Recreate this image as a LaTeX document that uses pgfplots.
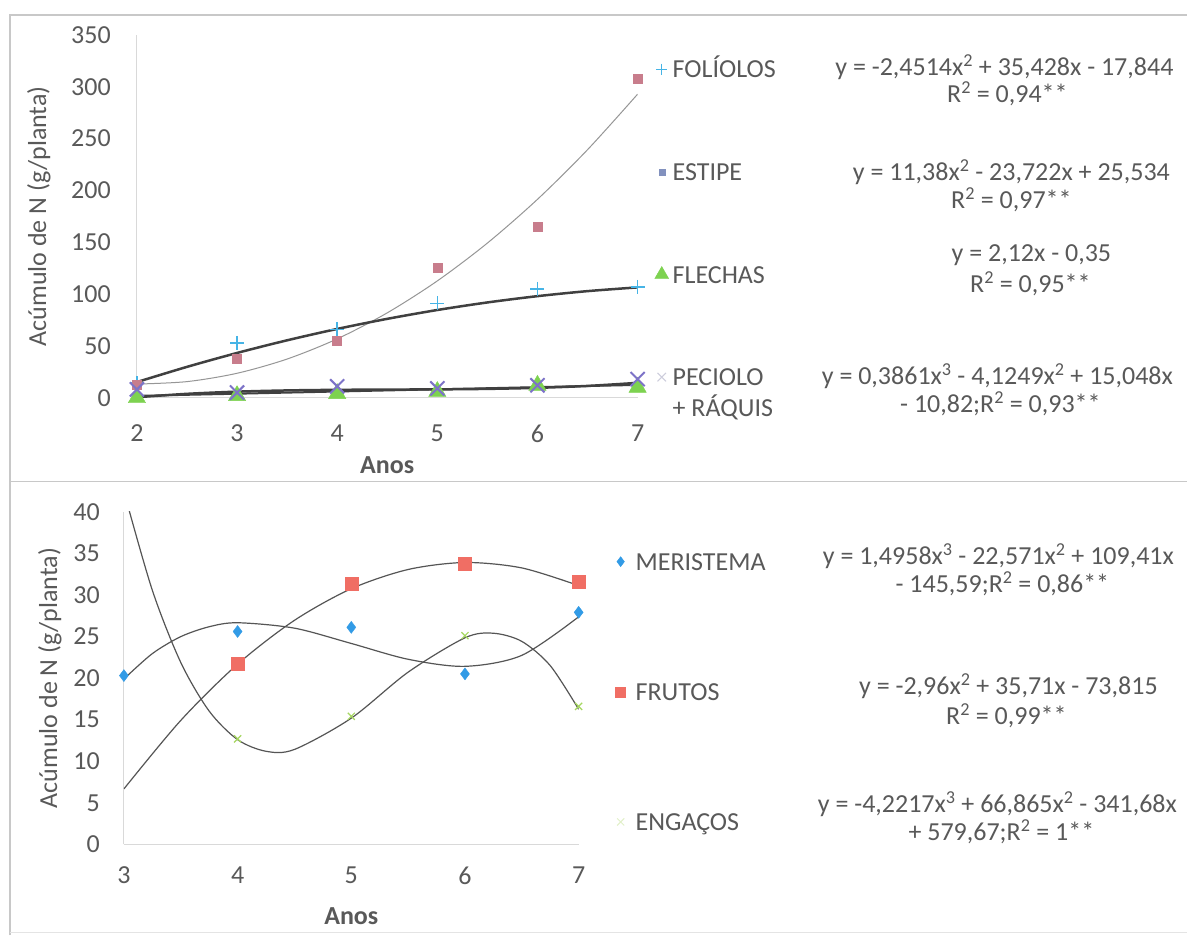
\documentclass[border=0pt]{standalone}
\usepackage{fontspec}
\setmainfont{Carlito}
\usepackage{pgfplots}
\pgfplotsset{compat=1.18}

\definecolor{txtgray}{RGB}{89,89,89}
\definecolor{axisgray}{RGB}{217,217,217}
\definecolor{framegray}{RGB}{200,200,200}
\definecolor{cFol}{RGB}{70,180,230}
\definecolor{cEst}{RGB}{200,125,140}
\definecolor{cEstLeg}{RGB}{130,145,190}
\definecolor{cFle}{RGB}{125,210,80}
\definecolor{cPec}{RGB}{125,115,200}
\definecolor{cPecLeg}{RGB}{205,205,220}
\definecolor{cMer}{RGB}{50,155,230}
\definecolor{cFru}{RGB}{240,110,100}
\definecolor{cEng}{RGB}{165,215,95}
\definecolor{cEngLeg}{RGB}{225,240,200}
\definecolor{trdark}{RGB}{64,64,64}
\definecolor{trlight}{RGB}{150,150,150}
\definecolor{trmid}{RGB}{85,85,85}

\newcommand{\fs}{\fontsize{26}{31}\selectfont}
\newcommand{\eqfs}{\fontsize{26}{31}\selectfont}

\pgfplotsset{
  panel/.style={
    scale only axis,
    axis x line*=bottom, axis y line*=left,
    axis line style={-, draw=axisgray, line width=1pt},
    major tick length=0pt,
    tick style={draw=none},
    tick label style={font=\fs, text=txtgray, inner sep=0pt},
    /pgf/number format/assume math mode=true,
    legend cell align=left,
    legend style={draw=none, fill=none, inner sep=0pt, font=\fs, text=txtgray,
      cells={anchor=base west}},
    legend image code/.code={\draw[##1] plot coordinates {(0pt,8.5pt)};},
  },
}

\begin{document}
\begin{tikzpicture}
\fill[white] (0pt,0pt) rectangle (1188pt,936pt);
% panel frames
\draw[framegray, line width=1.5pt] (10pt,0pt) -- (10pt,921pt) -- (1188pt,921pt);
\draw[framegray, line width=1.5pt] (10pt,454pt) -- (1188pt,454pt);
\draw[axisgray!70, line width=1pt] (10pt,3pt) -- (1188pt,3pt);

% ---------------- upper panel: leaves and stem ----------------
\begin{axis}[panel,
  at={(137pt,538pt)}, anchor=south west, width=501pt, height=363pt,
  xmin=2, xmax=7, ymin=0, ymax=350,
  xtick={2,3,4,5,6,7}, ytick={0,50,...,350},
  every x tick label/.append style={yshift=-27pt},
  every y tick label/.append style={xshift=-26pt},
  xlabel={Anos},
  ylabel={Acúmulo de N (g/planta)},
  every axis x label/.style={at={(axis description cs:0.5,-0.185)}, anchor=center,
    font=\fs\bfseries, text=txtgray},
  every axis y label/.style={at={(axis description cs:-0.196,0.5)}, rotate=90, anchor=center,
    font=\fs, text=txtgray},
  legend style={at={(1.034,0.948)}, anchor=north west, row sep=75.5pt, column sep=2pt},
]
% measured values
\addplot[only marks, mark=+, mark size=7pt, draw=cFol, line width=1.5pt, forget plot]
  coordinates {(2,14) (3,53) (4,66) (5,91) (6,105) (7,107)};
\addplot[only marks, mark=square*, mark size=4.5pt, draw=cEst, fill=cEst, forget plot]
  coordinates {(2,13) (3,38) (4,55) (5,125) (6,165) (7,308)};
\addplot[only marks, mark=triangle*, mark size=10pt, draw=cFle, fill=cFle, forget plot]
  coordinates {(2,0) (3,2) (4,4) (5,6) (6,12) (7,10)};
\addplot[only marks, mark=x, mark size=10pt, draw=cPec, line width=2pt, forget plot]
  coordinates {(2,8) (3,5) (4,11) (5,9) (6,12) (7,18)};
% trend lines
\addplot[smooth, draw=trlight, line width=1pt, forget plot] coordinates {
  (2,13.19) (2.5,15.56) (3,23.61) (3.5,37.35) (4,56.79) (4.5,81.91)
  (5,112.73) (5.5,149.23) (6,191.42) (6.5,239.31) (7,292.88)};
\addplot[smooth, draw=trdark, line width=2.5pt, forget plot] coordinates {
  (2,15.13) (2.5,29.78) (3,43.21) (3.5,55.41) (4,66.38) (4.5,76.12)
  (5,84.65) (5.5,91.94) (6,98.01) (6.5,102.86) (7,106.47)};
\addplot[draw=trdark, line width=2pt, forget plot] coordinates {(2,1.77) (7,12.37)};
\addplot[smooth, draw=trdark, line width=2.5pt, forget plot] coordinates {
  (2,0.49) (2.5,3.77) (3,5.87) (3.5,7.05) (4,7.62) (4.5,7.87)
  (5,8.08) (5.5,8.55) (6,9.56) (6.5,11.40) (7,14.37)};
% legend
\addlegendimage{only marks, mark=+, mark size=5.5pt, draw=cFol, line width=1pt}
\addlegendentry{\strut FOLÍOLOS}
\addlegendimage{only marks, mark=square*, mark size=3pt, draw=cEstLeg, fill=cEstLeg}
\addlegendentry{\strut ESTIPE}
\addlegendimage{only marks, mark=triangle*, mark size=8pt, draw=cFle, fill=cFle}
\addlegendentry{\strut FLECHAS}
\addlegendimage{only marks, mark=x, mark size=6pt, draw=cPecLeg, line width=1pt}
\addlegendentry{\begin{tabular}[t]{@{}l@{}}\strut PECIOLO\\+ RÁQUIS\end{tabular}}
\end{axis}

% ---------------- lower panel: reproductive organs ----------------
\begin{axis}[panel,
  at={(124pt,91pt)}, anchor=south west, width=455pt, height=333pt,
  xmin=3, xmax=7, ymin=0, ymax=40,
  xtick={3,4,5,6,7}, ytick={0,5,...,40},
  every x tick label/.append style={yshift=-22pt},
  every y tick label/.append style={xshift=-24pt},
  xlabel={Anos},
  ylabel={Acúmulo de N (g/planta)},
  every axis x label/.style={at={(axis description cs:0.5,-0.216)}, anchor=center,
    font=\fs\bfseries, text=txtgray},
  every axis y label/.style={at={(axis description cs:-0.163,0.5)}, rotate=90, anchor=center,
    font=\fs, text=txtgray},
  legend style={at={(1.081,0.896)}, anchor=north west, row sep=103pt, column sep=8pt},
]
% measured values
\addplot[only marks, mark=diamond*, mark size=6pt, draw=cMer, fill=cMer, forget plot]
  coordinates {(3,20.3) (4,25.6) (5,26.1) (6,20.5) (7,27.9)};
\addplot[only marks, mark=square*, mark size=6.5pt, draw=cFru, fill=cFru, forget plot]
  coordinates {(4,21.7) (5,31.3) (6,33.8) (7,31.6)};
\addplot[only marks, mark=x, mark size=5pt, draw=cEng, line width=1.2pt, forget plot]
  coordinates {(4,12.7) (5,15.4) (6,25.1) (7,16.6)};
% trend lines
\addplot[smooth, draw=trmid, line width=1.2pt, forget plot] coordinates {
  (3,19.89) (3.25,22.94) (3.5,24.98) (3.75,26.17) (4,26.65) (4.5,26.00)
  (5,24.16) (5.5,22.26) (6,21.41) (6.5,22.73) (7,27.36)};
\addplot[smooth, draw=trmid, line width=1.2pt, forget plot] coordinates {
  (3,6.68) (3.5,14.91) (4,21.67) (4.5,26.94) (5,30.74) (5.5,33.05)
  (6,33.89) (6.5,33.24) (7,31.12)};
\addplot[smooth, draw=trmid, line width=1.2pt, forget plot] coordinates {
  (3,42.43) (3.25,30.55) (3.5,21.88) (3.75,16.03) (4,12.60) (4.25,11.20)
  (4.5,11.42) (5,15.18) (5.5,20.71) (6,24.84) (6.25,25.39) (6.5,24.41)
  (6.75,21.50) (7,16.25)};
% legend
\addlegendimage{only marks, mark=diamond*, mark size=5pt, draw=cMer, fill=cMer}
\addlegendentry{\strut MERISTEMA}
\addlegendimage{only marks, mark=square*, mark size=5pt, draw=cFru, fill=cFru}
\addlegendentry{\strut FRUTOS}
\addlegendimage{only marks, mark=x, mark size=5pt, draw=cEngLeg, line width=1pt}
\addlegendentry{\strut ENGAÇOS}
\end{axis}

% fitted equations
\begin{scope}[every node/.style={font=\eqfs, text=txtgray, anchor=center, inner sep=0pt}]
\node at (1005pt,869pt) {y = -2,4514x\textsuperscript{2} + 35,428x - 17,844};
\node at (1008pt,842pt) {R\textsuperscript{2} = 0,94**};
\node at (1012pt,764pt) {y = 11,38x\textsuperscript{2} - 23,722x + 25,534};
\node at (1012pt,736pt) {R\textsuperscript{2} = 0,97**};
\node at (1032pt,681pt) {y = 2,12x - 0,35};
\node at (1031pt,652pt) {R\textsuperscript{2} = 0,95**};
\node at (998pt,560pt) {y = 0,3861x\textsuperscript{3} - 4,1249x\textsuperscript{2} + 15,048x};
\node at (1001pt,532pt) {- 10,82;R\textsuperscript{2} = 0,93**};
\node at (999pt,379pt) {y = 1,4958x\textsuperscript{3} - 22,571x\textsuperscript{2} + 109,41x};
\node at (1003pt,352pt) {- 145,59;R\textsuperscript{2} = 0,86**};
\node at (1009pt,249pt) {y = -2,96x\textsuperscript{2} + 35,71x - 73,815};
\node at (1007pt,220pt) {R\textsuperscript{2} = 0,99**};
\node at (998pt,131pt) {y = -4,2217x\textsuperscript{3} + 66,865x\textsuperscript{2} - 341,68x};
\node at (1002pt,104pt) {+ 579,67;R\textsuperscript{2} = 1**};
\end{scope}
\end{tikzpicture}
\end{document}
